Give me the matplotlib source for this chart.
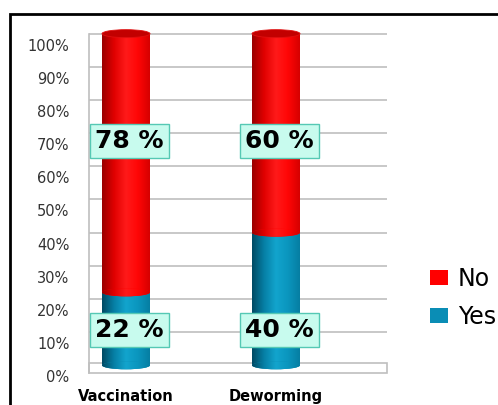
import numpy as np
import matplotlib
matplotlib.use('Agg')
from matplotlib import pyplot as plt
from matplotlib import transforms
from matplotlib.patches import Ellipse, Rectangle
from matplotlib.colors import LinearSegmentedColormap

# data
categories = ['Vaccination', 'Deworming']
yes_pct = [22, 40]
no_pct = [78, 60]
yticks = list(range(0, 101, 10))
ytick_labels = ['%d%%' % v for v in yticks]

fig = plt.figure(figsize=(4.98, 4.05), dpi=100)
ax = fig.add_axes([0.1787, 0.0783, 0.5984, 0.855])

x = np.arange(len(categories))
w = 0.32
cap_h = 2.4

red_cmap = LinearSegmentedColormap.from_list('red', ['#9a0000', '#e00000', '#ff1a1a', '#ff0606', '#d60000'])
teal_cmap = LinearSegmentedColormap.from_list('teal', ['#004a63', '#067fa5', '#12a4cd', '#0b96be', '#067ea2'])
grad = np.linspace(0, 1, 200).reshape(1, -1)


def shade(patch, x0, x1, y0, y1, cmap, z):
    # horizontal gradient clipped to the patch, fakes the cylinder look
    im = ax.imshow(grad, extent=(x0, x1, y0, y1), aspect='auto', cmap=cmap, zorder=z, interpolation='bilinear')
    im.set_clip_path(patch)


yes_bars = ax.bar(x, yes_pct, w, color='#0a8db5', zorder=3, label='Yes')
no_bars = ax.bar(x, no_pct, w, bottom=yes_pct, color='#ff0000', zorder=4, label='No')

for i in range(len(categories)):
    b = yes_bars[i]
    shade(b, b.get_x(), b.get_x() + w, 0, yes_pct[i], teal_cmap, 3.1)
    bot = Ellipse((x[i], 0), w, cap_h, fc='#0a8db5', ec='none', zorder=3.2)
    ax.add_patch(bot)
    shade(bot, x[i] - w / 2, x[i] + w / 2, -cap_h, cap_h, teal_cmap, 3.3)

    r = no_bars[i]
    shade(r, r.get_x(), r.get_x() + w, yes_pct[i], yes_pct[i] + no_pct[i], red_cmap, 4.1)
    mid = Ellipse((x[i], yes_pct[i]), w, cap_h, fc='#ff0000', ec='none', zorder=4.2)
    ax.add_patch(mid)
    shade(mid, x[i] - w / 2, x[i] + w / 2, yes_pct[i] - cap_h, yes_pct[i] + cap_h, red_cmap, 4.3)
    top = yes_pct[i] + no_pct[i]
    ax.add_patch(Ellipse((x[i], top), w, cap_h, fc='#c20000', ec='#e01010', lw=0.6, zorder=4.5))

# floor of the 3d chart
floor = Rectangle((0, -2.4), 1, 3.0, transform=transforms.blended_transform_factory(ax.transAxes, ax.transData),
                  fc='white', ec='#bfbfbf', lw=1.2, zorder=2, clip_on=False)
ax.add_patch(floor)

# value boxes
no_label_y = 67.5
yes_label_y = 10.6
box = dict(boxstyle='square,pad=0.2', fc='#c8fbee', ec='#55c8b4', lw=1)
for i in range(len(categories)):
    ax.text(x[i] + 0.025, no_label_y, '%d %%' % no_pct[i], ha='center', va='center', fontsize=18,
            fontweight='bold', bbox=box, zorder=6)
    ax.text(x[i] + 0.025, yes_label_y, '%d %%' % yes_pct[i], ha='center', va='center', fontsize=18,
            fontweight='bold', bbox=box, zorder=6)

ax.set_xlim(-0.2467, 1.74)
ax.set_ylim(-2.4, 102)
ax.set_xticks(x)
ax.set_xticklabels(categories, fontsize=10.5, fontweight='bold')
ax.set_yticks(yticks)
ax.set_yticklabels(ytick_labels, fontsize=10.5, color='#333333')
ax.tick_params(axis='both', length=0)
ax.tick_params(axis='y', pad=14)
ax.tick_params(axis='x', pad=11)

ax.yaxis.grid(True, color='#bfbfbf', lw=1.2)
ax.set_axisbelow(True)
for s in ['top', 'right', 'bottom']:
    ax.spines[s].set_visible(False)
ax.spines['left'].set_color('#bfbfbf')
ax.spines['left'].set_linewidth(1.2)
ax.spines['left'].set_bounds(-2.4, 100)

# labels sit a bit lower than the back-wall gridlines
off = transforms.ScaledTranslation(0, -11 / 100, fig.dpi_scale_trans)
for lab in ax.get_yticklabels():
    lab.set_transform(lab.get_transform() + off)

ax.legend([no_bars, yes_bars], ['No', 'Yes'], loc='center left', bbox_to_anchor=(0.8635, 0.264),
          bbox_transform=fig.transFigure, frameon=False, fontsize=17, handlelength=0.76, handleheight=0.6,
          handletextpad=0.42, labelspacing=0.6, borderpad=0, borderaxespad=0)

# outer frame, cut off at right and bottom like the screenshot
fig.add_artist(Rectangle((10 / 498, -0.5), 2, 0.5 + 1 - 14 / 405, transform=fig.transFigure,
                         fill=False, ec='black', lw=2))

fig.savefig('out.png', dpi=100)
